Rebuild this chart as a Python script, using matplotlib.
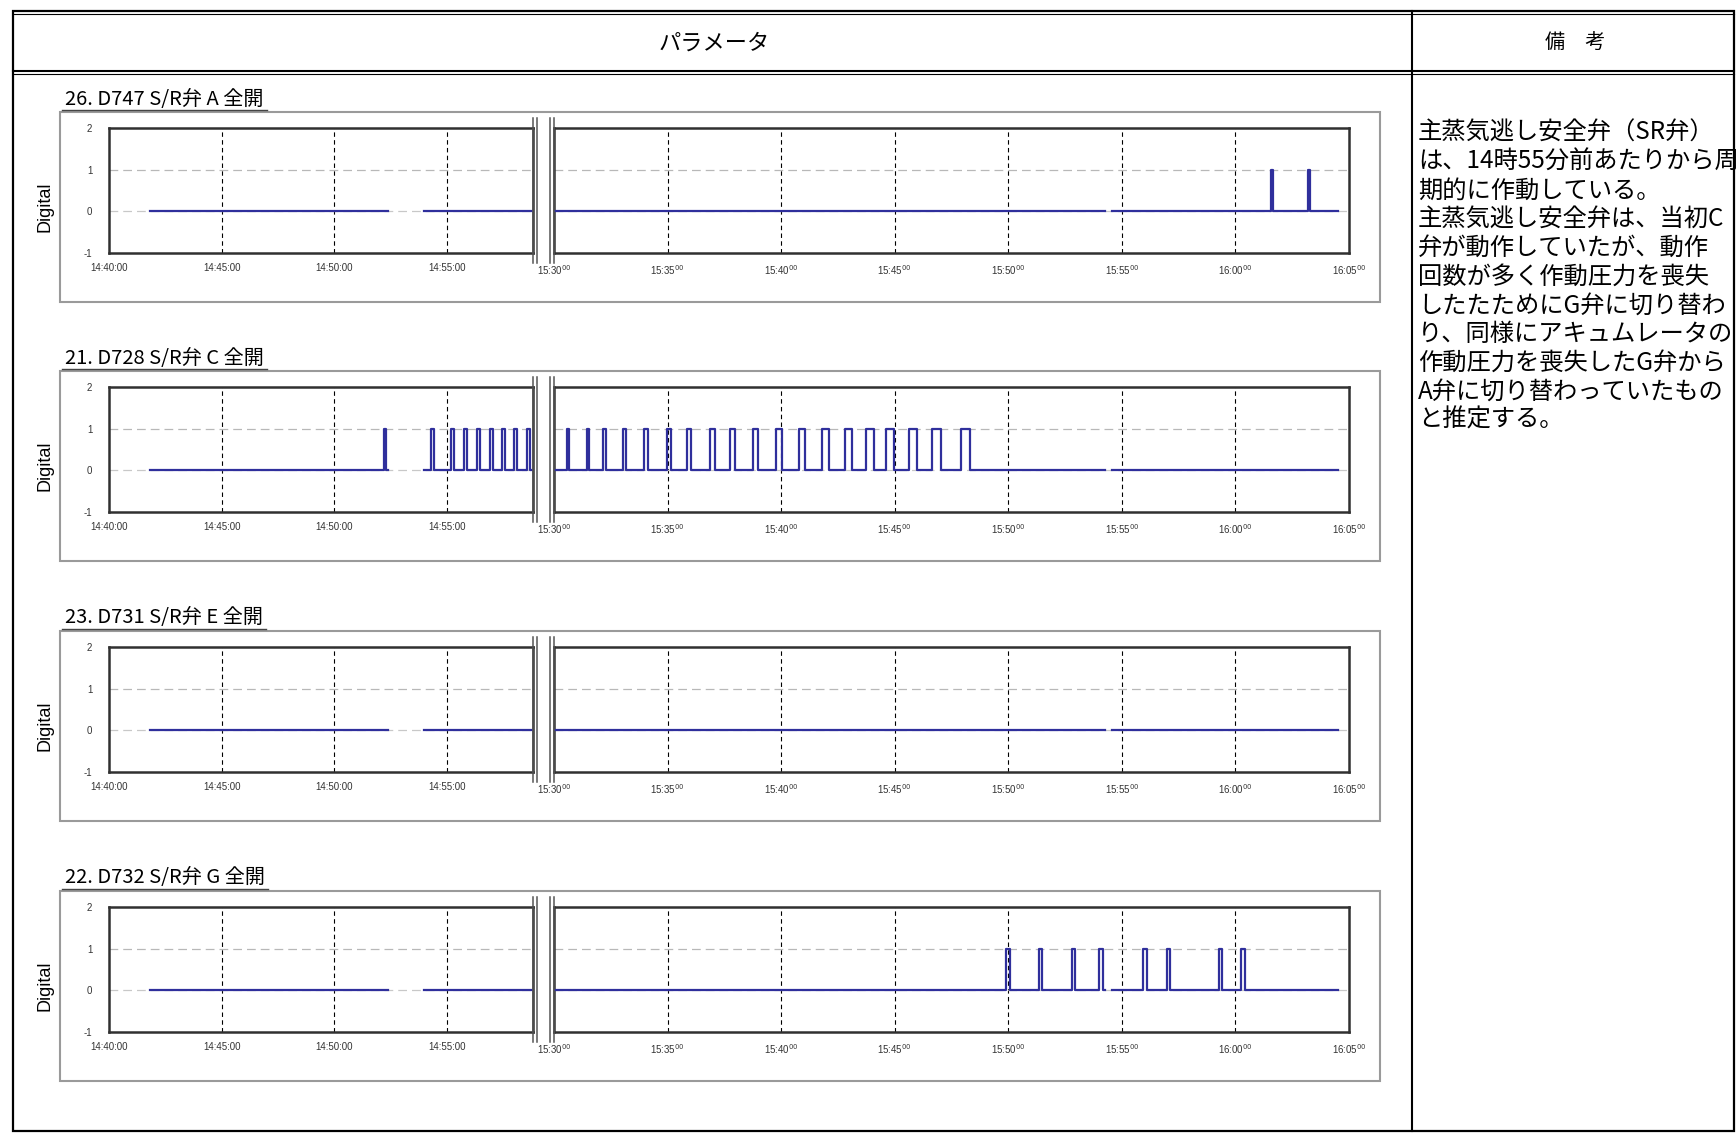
import matplotlib
matplotlib.use("Agg")
import matplotlib.pyplot as plt
from matplotlib.lines import Line2D
from matplotlib.patches import Rectangle

plt.rcParams['font.family'] = ['Noto Sans CJK JP', 'DejaVu Sans']

# time windows (the chart is broken between the two windows)
left_window = ("14:40:00", "14:58:50")
right_window = ("15:30:00", "16:05:00")
left_ticks = ["14:40:00", "14:45:00", "14:50:00", "14:55:00"]
right_ticks = ["15:30", "15:35", "15:40", "15:45", "15:50", "15:55", "16:00", "16:05"]
y_ticks = [-1, 0, 1, 2]

# periods with recorded data
recorded = [("14:41:50", "14:52:24"), ("14:54:00", "14:58:50"),
            ("15:30:00", "15:54:15"), ("15:54:35", "16:04:30")]

titles = ["26. D747 S/R弁 A 全開", "21. D728 S/R弁 C 全開",
          "23. D731 S/R弁 E 全開", "22. D732 S/R弁 G 全開"]

# valve full-open pulses: start time and duration (s)
a_start = ["16:01:33", "16:03:11"]
a_dur = [6, 6]

c_start = ["14:52:12", "14:54:19", "14:55:12", "14:55:47", "14:56:21", "14:56:56",
           "14:57:28", "14:58:00", "14:58:35",
           "15:30:34", "15:31:27", "15:32:10", "15:33:02", "15:33:58", "15:34:59",
           "15:35:51", "15:36:52", "15:37:45", "15:38:46", "15:39:47", "15:40:47",
           "15:41:48", "15:42:49", "15:43:44", "15:44:37", "15:45:38", "15:46:39",
           "15:47:56"]
c_dur = [6, 8, 8, 8, 8, 8, 8, 8, 8,
         6, 6, 8, 8, 10, 10, 12, 12, 14, 14, 16, 16,
         18, 18, 20, 20, 22, 22, 24]

e_start = []
e_dur = []

g_start = ["15:49:53", "15:51:20", "15:52:47", "15:54:00", "15:55:57",
           "15:56:58", "15:59:16", "16:00:16"]
g_dur = [12, 9, 9, 9, 9, 9, 9, 9]

pulses = [(a_start, a_dur), (c_start, c_dur), (e_start, e_dur), (g_start, g_dur)]

remarks = ["主蒸気逃し安全弁（SR弁）", "は、14時55分前あたりから周", "期的に作動している。",
           "主蒸気逃し安全弁は、当初C", "弁が動作していたが、動作", "回数が多く作動圧力を喪失",
           "したたためにG弁に切り替わ", "り、同様にアキュムレータの", "作動圧力を喪失したG弁から",
           "A弁に切り替わっていたもの", "と推定する。"]


def to_min(s):
    h, m, sec = (s.split(":") + ["0"])[:3]
    return int(h) * 60 + int(m) + int(sec) / 60


def step_series(seg, starts, durs):
    t0, t1 = to_min(seg[0]), to_min(seg[1])
    xs, ys = [t0], [0]
    for s, d in zip(starts, durs):
        a = to_min(s)
        if t0 <= a <= t1:
            b = min(a + d / 60, t1)
            xs += [a, a, b, b]
            ys += [0, 1, 1, 0]
    xs.append(t1)
    ys.append(0)
    return xs, ys


W, H = 1736, 1135
fig = plt.figure(figsize=(W / 100, H / 100), dpi=100)


def px_axes(x0, y0, x1, y1):
    return fig.add_axes([x0 / W, 1 - y1 / H, (x1 - x0) / W, (y1 - y0) / H])


def line_px(xs, ys, **kw):
    fig.add_artist(Line2D([x / W for x in xs], [1 - y / H for y in ys],
                          transform=fig.transFigure, **kw))


# table frame
fig.add_artist(Rectangle((13 / W, 1 - 1131 / H), (1734 - 13) / W, (1131 - 11) / H,
                         transform=fig.transFigure, fill=False, lw=1.6, ec='black'))
line_px([13, 1734], [14, 14], lw=0.8, color='black')
line_px([13, 1734], [71, 71], lw=1.5, color='black')
line_px([13, 1734], [74, 74], lw=0.8, color='black')
line_px([1412, 1412], [11, 1131], lw=1.5, color='black')
fig.text(714 / W, 1 - 43 / H, "パラメータ", ha='center', va='center', fontsize=16)
fig.text(1575 / W, 1 - 43 / H, "備　考", ha='center', va='center', fontsize=14.5)

for k, line in enumerate(remarks):
    fig.text(1418 / W, 1 - (133 + 28.7 * k) / H, line, ha='left', va='center',
             fontsize=17.5, color='black')

ax_tops = [128, 387, 647, 907]
ax_h = 125
lx0, lx1 = 109, 533
rx0, rx1 = 554, 1349
line_color = '#2f2f9c'

title_texts = []
for i, top in enumerate(ax_tops):
    bot = top + ax_h
    box_top, box_bot = top - 16, bot + 49
    fig.add_artist(Rectangle((60 / W, 1 - box_bot / H), (1380 - 60) / W, (box_bot - box_top) / H,
                             transform=fig.transFigure, fill=False, lw=1.5, ec='#9a9a9a'))
    t = fig.text(65 / W, 1 - (top - 29) / H, titles[i], ha='left', va='center', fontsize=14.5)
    title_texts.append((t, top - 18))
    fig.text(45 / W, 1 - (box_top + box_bot) / 2 / H, "Digital", rotation=90, ha='center',
             va='center', fontsize=13, family='Liberation Sans')

    ax_l = px_axes(lx0, top, lx1, bot)
    ax_r = px_axes(rx0, top, rx1, bot)
    starts, durs = pulses[i]
    for ax, win, ticks in [(ax_l, left_window, left_ticks), (ax_r, right_window, right_ticks)]:
        for seg in recorded:
            xs, ys = step_series(seg, starts, durs)
            ax.plot(xs, ys, color=line_color, lw=1.6, zorder=3)
        ax.set_xlim(to_min(win[0]), to_min(win[1]))
        ax.set_ylim(-1, 2)
        tpos = [to_min(s) for s in ticks]
        for x in tpos[1:]:
            if x < to_min(win[1]) - 0.01:
                ax.axvline(x, color='black', lw=0.8, ls=(0, (4, 3)), zorder=1)
        ax.axhline(1, color='#b8b8b8', lw=0.9, ls=(0, (7, 4)), zorder=1)
        ax.axhline(0, color='#c8c8c8', lw=0.9, ls=(0, (7, 4)), zorder=1)
        ax.set_xticks(tpos)
        if ax is ax_r:
            labels = [s + "$^{00}$" for s in ticks]
        else:
            labels = ticks
        ax.set_xticklabels(labels, fontsize=7, family='Liberation Sans', color='#333333')
        ax.tick_params(axis='x', length=0, pad=7)
        for sp in ax.spines.values():
            sp.set_linewidth(1.8)
            sp.set_color('#303030')
    ax_l.set_yticks(y_ticks)
    ax_l.set_yticklabels([str(v) for v in y_ticks], fontsize=7, family='Liberation Sans',
                         color='#333333')
    ax_l.tick_params(axis='y', length=0, pad=12)
    ax_r.set_yticks([])

    for x in [lx1, 537, 550, rx0]:
        line_px([x, x], [top - 10, bot + 10], lw=1.1, color='#555555')

# underline the panel titles
fig.canvas.draw()
for t, y in title_texts:
    bb = t.get_window_extent()
    line_px([62, bb.x1 + 3], [y, y], lw=1.0, color='#444444')

fig.savefig("out.png", dpi=100)
